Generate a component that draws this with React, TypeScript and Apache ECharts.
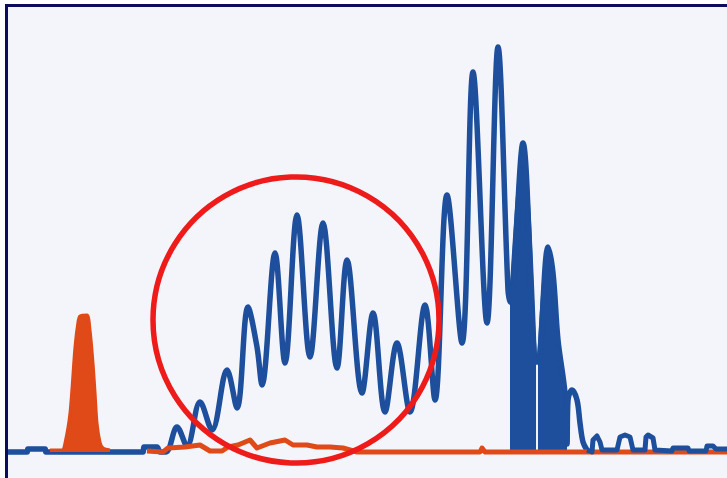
import React, { useEffect, useRef } from "react";
import * as echarts from "echarts";

// x: channel position, y: signal height above baseline
const blueMain: [number, number][] = [
  [8, 0], [27, 0], [28, 3], [45, 3], [46, 0], [143, 0], [144, 5], [157, 5], [160, 0],
  [166, 0], [177, 25], [187, 6], [200, 50], [212, 22], [227, 82], [237, 44],
  [248, 145], [257, 105], [262, 67], [275, 199], [285, 89], [297, 237], [310, 95],
  [323, 229], [337, 84], [347, 192], [362, 59], [373, 139], [385, 40], [397, 109],
  [410, 40], [425, 147], [435, 52], [447, 257], [462, 109], [473, 380], [487, 129],
  [498, 405], [508, 162], [510, 150], [523, 309], [536, 90], [538, 90], [548, 205],
  [553, 179], [558, 112], [565, 59], [567, 8], [568, 52], [572, 62], [577, 52],
  [580, 29], [583, 10], [587, 2],
];
const blueBlockA: [number, number][] = [[510, 150], [523, 309], [536, 90]];
const blueBlockB: [number, number][] = [
  [538, 90], [548, 205], [553, 179], [558, 112], [565, 59], [567, 8],
];
const blueTail: [number, number][] = [
  [587, 2], [592, 0], [593, 12], [597, 16], [600, 10], [602, 2], [617, 2], [620, 15],
  [625, 17], [630, 15], [633, 2], [645, 2], [646, 15], [648, 17], [653, 14], [655, 2],
  [672, 1], [673, 4], [688, 4], [689, 1], [706, 1], [707, 6], [713, 6], [716, 3],
  [727, 3],
];
const orangePeak: [number, number][] = [
  [50, 2], [62, 2], [65, 9], [70, 39], [75, 105], [78, 130], [80, 136], [87, 137],
  [90, 122], [93, 89], [95, 60], [97, 29], [100, 10], [103, 4], [110, 2],
];
const orangeLow: [number, number][] = [
  [147, 1], [163, 0], [168, 4], [185, 5], [200, 7], [210, 1], [222, 1], [228, 5],
  [238, 7], [250, 12], [257, 4], [270, 9], [285, 12], [293, 7], [307, 7], [317, 5],
  [330, 5], [343, 4], [357, 0], [480, 0], [482, 4], [485, 0], [727, 0],
];
// highlight circle in data units: centre and radius
const circleCentre: [number, number] = [296, 132];
const circleRadius = 143;

const BLUE = "#1d4f9c";
const ORANGE = "#df4a18";

export default function App() {
  const ref = useRef<HTMLDivElement>(null);
  useEffect(() => {
    if (!ref.current) return;
    const chart = echarts.init(ref.current, null, { renderer: "svg" });
    const lineBase = {
      type: "line" as const,
      showSymbol: false,
      symbol: "none",
      silent: true,
    };
    chart.setOption({
      animation: false,
      backgroundColor: "#ffffff",
      grid: { left: 0, right: 0, top: 0, bottom: 0 },
      xAxis: { type: "value", min: 0, max: 727, show: false },
      yAxis: { type: "value", min: -26, max: 452, show: false },
      series: [
        {
          ...lineBase,
          data: blueMain,
          z: 3,
          smooth: 0.35,
          lineStyle: { color: BLUE, width: 5.5, join: "round", cap: "round" },
        },
        {
          ...lineBase,
          data: blueBlockA,
          z: 3,
          smooth: 0.35,
          lineStyle: { color: BLUE, width: 2 },
          areaStyle: { color: BLUE, opacity: 1, origin: "auto" },
        },
        {
          ...lineBase,
          data: blueBlockB,
          z: 3,
          smooth: 0.35,
          lineStyle: { color: BLUE, width: 2 },
          areaStyle: { color: BLUE, opacity: 1, origin: "auto" },
        },
        {
          ...lineBase,
          data: orangeLow,
          z: 4,
          lineStyle: { color: ORANGE, width: 5, join: "round" },
        },
        {
          ...lineBase,
          data: orangePeak,
          z: 4,
          smooth: 0.3,
          lineStyle: { color: ORANGE, width: 3 },
          areaStyle: { color: ORANGE, opacity: 1, origin: "auto" },
        },
        {
          ...lineBase,
          data: blueTail,
          z: 5,
          lineStyle: { color: BLUE, width: 5, join: "round" },
        },
      ],
    });
    const c = chart.convertToPixel({ gridIndex: 0 }, circleCentre) as number[];
    const edge = chart.convertToPixel({ gridIndex: 0 }, [
      circleCentre[0] + circleRadius,
      circleCentre[1],
    ]) as number[];
    const r = edge[0] - c[0];
    chart.setOption({
      graphic: [
        {
          type: "rect",
          z: -10,
          silent: true,
          shape: { x: 5, y: 4, width: 727, height: 478 },
          style: { fill: "#f3f5fb" },
        },
        {
          type: "line",
          z: 10,
          silent: true,
          shape: { x1: 5, y1: 5.5, x2: 727, y2: 5.5 },
          style: { stroke: "#0b0c5e", lineWidth: 3 },
        },
        {
          type: "line",
          z: 10,
          silent: true,
          shape: { x1: 6.5, y1: 4, x2: 6.5, y2: 478 },
          style: { stroke: "#0b0c5e", lineWidth: 3 },
        },
        {
          type: "circle",
          z: 10,
          silent: true,
          shape: { cx: c[0], cy: c[1], r },
          style: { fill: "none", stroke: "#ee1b1b", lineWidth: 5.5 },
        },
      ],
    });
    return () => chart.dispose();
  }, []);
  return (
    <div
      ref={ref}
      style={{ position: "fixed", left: 0, top: 0, width: 727, height: 478 }}
    />
  );
}
